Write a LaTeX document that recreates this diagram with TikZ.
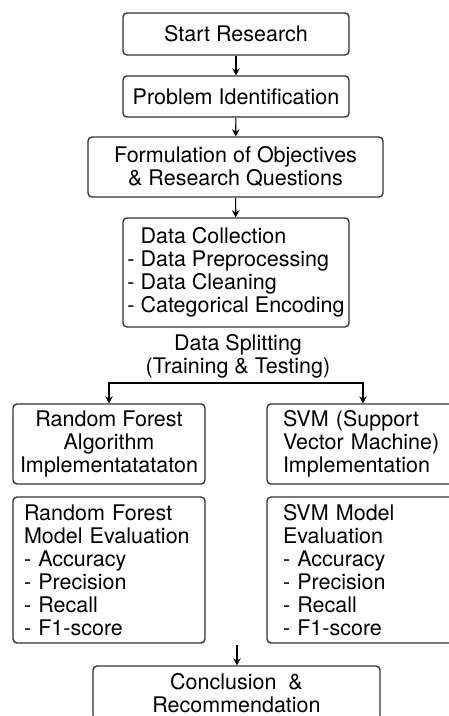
\documentclass[tikz,border=0pt]{standalone}
\usepackage{fontspec}
\setmainfont{TeX Gyre Heros}
\usetikzlibrary{arrows.meta}
\begin{document}
\begin{tikzpicture}[x=1pt,y=-1pt,
    txt/.style={font=\fontsize{21.5}{23}\selectfont},
    box/.style={txt,draw=black!80,line width=1.4pt,rounded corners=4pt,inner ysep=2pt},
    arr/.style={-{Stealth[length=7pt,width=7.5pt]},line width=1.1pt}]
    \useasboundingbox (0,0) rectangle (449,716);
    \clip (0,0) rectangle (449,716);
    % main column
    \node[box,minimum width=226,minimum height=42] (start) at (236,34) {Start Research};
    \node[box,minimum width=226,minimum height=41] (problem) at (236,96.5) {Problem Identification};
    \node[box,minimum width=295,minimum height=60,align=center] (objectives) at (235.5,167)
        {Formulation of Objectives\\\& Research Questions};
    \node[box,minimum width=226,minimum height=109,align=left] (collection) at (236,272.5)
        {\phantom{- }Data Collection\\- Data Preprocessing\\- Data Cleaning\\- Categorical Encoding};
    \node[txt,align=center] (splitting) at (238,356) {Data Splitting\\(Training \& Testing)};
    \coordinate (fork) at (236,383);
    % two branches
    \node[box,minimum width=192,minimum height=80,align=center] (rfimpl) at (109,444)
        {Random Forest\\Algorithm\\Implementatataton};
    \node[box,text width=160,inner xsep=16,minimum height=80,align=left] (svmimpl) at (363,444)
        {SVM (Support\\Vector Machine)\\Implementation};
    \node[box,text width=170,inner xsep=11,minimum height=146,align=left] (rfeval) at (109,570)
        {Random Forest\\Model Evaluation\\- Accuracy\\- Precision\\- Recall\\- F1-score};
    \node[box,text width=160,inner xsep=16,minimum height=146,align=left] (svmeval) at (363,570)
        {SVM Model\\Evaluation\\- Accuracy\\- Precision\\- Recall\\- F1-score};
    \coordinate (evalout) at (237,645);
    \node[box,minimum width=287,minimum height=54,align=center] (conclusion) at (236.5,693)
        {Conclusion \ \&\\Recommendation};
    \draw[arr] (start) -- (problem);
    \draw[arr] (problem) -- (objectives);
    \draw[arr] (objectives) -- (collection);
    \draw[arr] (fork) -| (rfimpl.north);
    \draw[arr] (fork) -| (svmimpl.north);
    \draw[arr] (evalout) -- (evalout |- conclusion.north);
\end{tikzpicture}
\end{document}
